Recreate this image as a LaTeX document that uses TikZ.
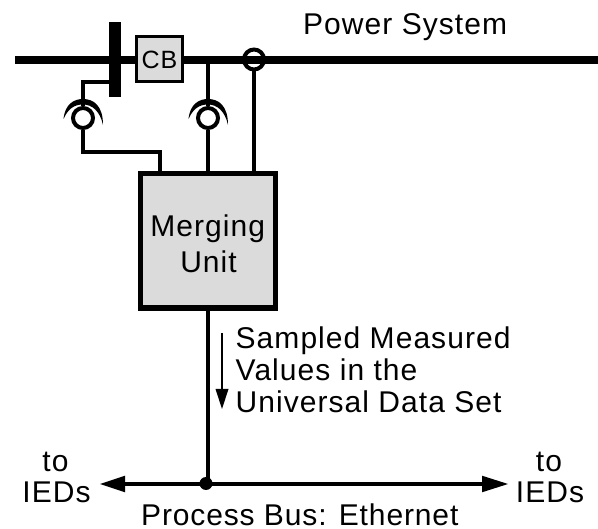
\documentclass[tikz,border=0pt]{standalone}
\usepackage{fontspec}
\setmainfont[LetterSpace=3.5]{Liberation Sans}
\newfontfamily\tightfont[LetterSpace=2.9]{Liberation Sans}
\newcommand{\lbl}{\fontsize{30}{36}\selectfont}
\tikzset{
  x=1pt,y=-1pt,
  txt/.style={inner sep=0pt,anchor=base west,font=\lbl},
  txtc/.style={inner sep=0pt,anchor=base,font=\lbl},
  wire/.style={line width=4pt,line join=miter},
  grayfill/.style={fill=black!14,draw=black},
  ct/.style={circle,draw=black,fill=white,line width=4pt,minimum size=20pt,inner sep=0pt},
  crescent/.style={fill=black,draw=none}
}
\begin{document}
\begin{tikzpicture}
\useasboundingbox (0,0) rectangle (598,529);
% main line
\coordinate (lineL) at (15,60.5);
\coordinate (lineR) at (598,60.5);
\draw[line width=8pt] (lineL) -- (lineR);
% nodes
\node[grayfill,line width=3pt,minimum width=46pt,minimum height=45pt,inner sep=0pt] (cb) at (159.5,59) {};
\node[inner sep=0pt,anchor=base,font=\fontsize{25}{30}\selectfont] at (159.5,69) {CB};
\node[fill=black,minimum width=12pt,minimum height=75pt,inner sep=0pt] (bar) at (115,59.5) {};
\node[grayfill,line width=5.5pt,minimum width=135pt,minimum height=134.5pt,inner sep=0pt] (mu) at (207.75,241) {};
\node[txtc] at (207.75,237) {Merging};
\node[txtc] at (208.5,273) {Unit};
\node[ct] (ct1) at (83,118) {};
\node[ct] (ct2) at (208,118) {};
\node[circle,draw=black,line width=4pt,minimum size=20pt,inner sep=0pt] (ct3) at (254,59.5) {};
% crescents
\foreach \c in {83,208}{
  \fill[crescent] (\c-19.5,119) .. controls (\c-18,104) and (\c-9,99) .. (\c,99)
     .. controls (\c+11,99) and (\c+20,106) .. (\c+20,125)
     .. controls (\c+17,111) and (\c+9,104.5) .. (\c,104.5)
     .. controls (\c-9,104.5) and (\c-15,109) .. (\c-19.5,119) -- cycle;
}
% wires
\coordinate (tap) at (208,60.5);
\draw[wire] (113,82) -- (83,82) -- (ct1.north);
\draw[wire] (ct1.south) -- (83,152) -- (160,152) -- (160,171);
\draw[wire] (tap) -- (ct2.north);
\draw[wire] (ct2.south) -- (208,171);
\draw[wire] (ct3.south) -- (254,171);
% bus
\coordinate (busL) at (100,484);
\coordinate (busR) at (508,484);
\coordinate (junction) at (208,484);
\draw[wire] (mu.south -| junction) -- (junction);
\draw[line width=4pt] (122,484) -- (486,484);
\fill (busL) -- (125,475.7) -- (125,492.3) -- cycle;
\fill (busR) -- (482,475.7) -- (482,492.3) -- cycle;
\node[circle,fill=black,minimum size=13pt,inner sep=0pt] (dot) at (206,483.5) {};
% small arrow
\coordinate (sa) at (222,333);
\coordinate (sb) at (222,409);
\draw[line width=1.5pt] (sa) -- (222,392);
\fill (sb) -- (215.5,389) -- (228.5,389) -- cycle;
% labels
\node[txt] at (303,34.5) {Power System};
\node[txt] at (235.5,349) {Sampled Measured};
\node[txt] at (235.5,381) {Values in the};
\node[txt] at (235.5,412.5) {Universal Data Set};
\node[txtc] at (55.5,472) {to};
\node[txtc] at (56.5,503) {IEDs};
\node[txtc] at (549,472) {to};
\node[txtc] at (550,503) {IEDs};
\node[inner sep=0pt,anchor=base west,font=\tightfont\lbl] at (141,526) {Process Bus: Ethernet};
\end{tikzpicture}
\end{document}
